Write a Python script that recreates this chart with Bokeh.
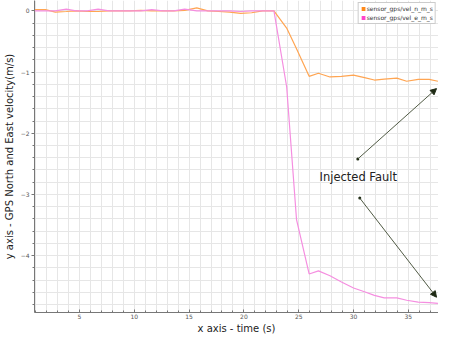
from bokeh.plotting import figure
from bokeh.models import (SingleIntervalTicker, Range1d, Legend, LegendItem,
                          Arrow, NormalHead, Label)
from bokeh.embed import file_html
from bokeh.resources import INLINE

# ---- data ----
time_s = [0.9, 1.9, 2.8, 3.8, 4.7, 5.7, 6.7, 7.7, 8.6, 9.6, 10.6, 11.6, 12.6,
          13.6, 14.6, 15.7, 16.7, 17.7, 18.7, 19.7, 20.7, 21.7,
          22.74, 23.9, 24.8, 25.95, 26.8, 27.85, 28.9, 30.0, 31.0, 31.9,
          32.8, 33.95, 34.85, 35.9, 36.9, 37.7]
vel_n = [0.02, 0.02, -0.02, -0.01, 0.0, -0.01, -0.01, 0.0, 0.0, 0.0, 0.01, 0.0,
         0.0, 0.0, 0.01, 0.05, 0.0, -0.01, -0.02, -0.04, -0.03, 0.0,
         0.0, -0.28, -0.62, -1.07, -1.02, -1.08, -1.07, -1.05, -1.09, -1.13,
         -1.115, -1.10, -1.15, -1.12, -1.12, -1.15]
vel_e = [0.0, 0.0, 0.0, 0.03, 0.0, 0.0, 0.03, 0.0, 0.0, 0.0, 0.0, 0.02,
         0.0, 0.0, 0.03, 0.0, 0.0, 0.0, 0.0, -0.01, 0.0, 0.0,
         0.0, -1.24, -3.41, -4.30, -4.25, -4.33, -4.43, -4.53, -4.59, -4.65,
         -4.69, -4.69, -4.73, -4.76, -4.77, -4.78]
series_names = ["sensor_gps/vel_n_m_s", "sensor_gps/vel_e_m_s"]
x_title = "x axis - time (s)"
y_title = "y axis - GPS North and East velocity(m/s)"

# annotation: text and two arrows (data coordinates)
note_text = "Injected Fault"
note_pos = (26.9, -2.72)
arrow_start_x = [30.39, 30.57]
arrow_start_y = [-2.42, -3.06]
arrow_end_x = [37.57, 37.57]
arrow_end_y = [-1.27, -4.68]

X_MIN, X_MAX = 0.9, 37.75
Y_MIN, Y_MAX = -4.93, 0.17

ORANGE_LINE = "#ffa552"
PINK_LINE = "#f58ee0"
ORANGE = "#ff8a1a"
PINK = "#ff44cc"
ARROW_C = "#505a44"
FONT = "DejaVu Sans"

p = figure(width=438, height=336, output_backend="svg", toolbar_location=None,
           x_range=Range1d(X_MIN, X_MAX), y_range=Range1d(Y_MIN, Y_MAX),
           min_border_left=0, min_border_right=0, min_border_top=0,
           min_border_bottom=0, background_fill_color="white",
           border_fill_color="white")
p.outline_line_color = None

# grid
p.xgrid.ticker = SingleIntervalTicker(interval=1)
p.ygrid.ticker = SingleIntervalTicker(interval=0.2)
p.grid.grid_line_color = "#e6e6e6"
p.grid.grid_line_width = 1

# axes
p.xaxis.ticker = SingleIntervalTicker(interval=5, num_minor_ticks=5)
p.yaxis.ticker = SingleIntervalTicker(interval=1, num_minor_ticks=5)
for ax in (p.xaxis, p.yaxis):
    ax.axis_line_color = "#777777"
    ax.major_tick_line_color = "#777777"
    ax.minor_tick_line_color = "#777777"
    ax.major_label_text_font_size = "6px"
    ax.major_label_text_color = "#555555"
    ax.major_label_text_font = FONT
    ax.axis_label_text_font_size = "10px"
    ax.axis_label_text_font_style = "normal"
    ax.axis_label_text_font = FONT
    ax.axis_label_text_color = "#222222"
    ax.major_label_standoff = 2
    ax.axis_label_standoff = 3
p.xaxis.major_label_standoff = 1
p.xaxis.axis_label_standoff = 1
p.xaxis.major_tick_in = 3
p.xaxis.major_tick_out = 0
p.xaxis.minor_tick_in = 2
p.xaxis.minor_tick_out = 0
p.yaxis.major_tick_in = 0
p.yaxis.major_tick_out = 3
p.yaxis.minor_tick_in = 0
p.yaxis.minor_tick_out = 2
p.xaxis.axis_label = x_title
p.yaxis.axis_label = y_title

# lines
p.line(time_s, vel_n, line_color=ORANGE_LINE, line_width=1.2)
p.line(time_s, vel_e, line_color=PINK_LINE, line_width=1.2)

# legend proxies (filled squares)
r_n = p.quad(left=time_s[:1], right=time_s[1:2], bottom=vel_n[:1], top=[0.1],
             fill_color=ORANGE, line_color=None, visible=False)
r_e = p.quad(left=time_s[:1], right=time_s[1:2], bottom=vel_e[:1], top=[0.1],
             fill_color=PINK, line_color=None, visible=False)
legend = Legend(items=[LegendItem(label=series_names[0], renderers=[r_n]),
                       LegendItem(label=series_names[1], renderers=[r_e])],
                location="top_right", margin=2, padding=2, spacing=2,
                label_text_font_size="6px", label_text_font=FONT,
                label_text_color="#333333", label_height=7, label_standoff=1,
                glyph_width=5, glyph_height=5,
                border_line_color="#999999", background_fill_alpha=1.0)
p.add_layout(legend)

# annotation
p.add_layout(Label(x=note_pos[0], y=note_pos[1], text=note_text,
                   text_font=FONT, text_font_size="11.5px",
                   text_baseline="middle", text_color="#222222"))
for xs, ys, xe, ye in zip(arrow_start_x, arrow_start_y, arrow_end_x, arrow_end_y):
    p.add_layout(Arrow(x_start=xs, y_start=ys, x_end=xe, y_end=ye,
                       line_color=ARROW_C, line_width=1,
                       end=NormalHead(size=6, fill_color="#1e2a14",
                                      line_color="#1e2a14")))
p.scatter(arrow_start_x, arrow_start_y, marker="circle", size=3,
          fill_color="#1e2a14", line_color=None)

open("out.html", "w").write(file_html(p, INLINE))
